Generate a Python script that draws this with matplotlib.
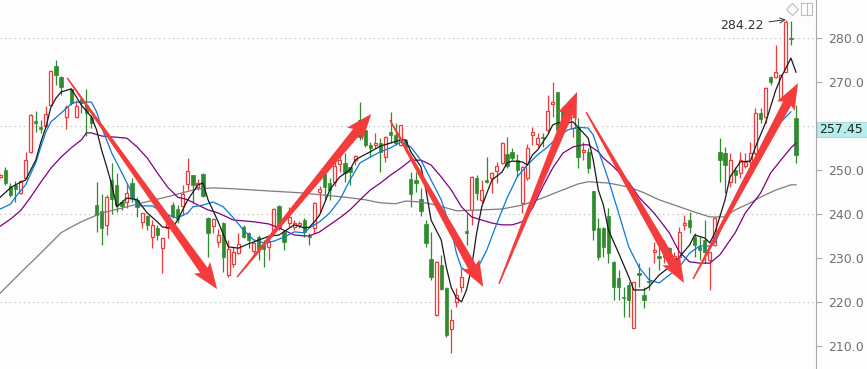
import matplotlib
matplotlib.use('Agg')
import matplotlib.pyplot as plt
from matplotlib.patches import Polygon, Rectangle
from matplotlib.lines import Line2D
import numpy as np

# ---------------- data ----------------
opens = [248.5,250.1,246.4,246.6,244.8,248.2,254.2,261.2,259.8,260.1,
         264.8,273.7,271.2,262.1,268.5,262.1,266.2,264.8,262.1,242.1,
         240.8,237.6,247.8,246.6,242.8,242.8,247.1,243.3,238.3,239.6,
         234.8,236.9,232.3,236.9,242.1,241.2,241.9,246.9,248.9,246.2,
         249.2,239.2,237.3,233.7,238.0,226.2,228.7,231.2,237.1,235.8,
         231.7,234.8,233.0,232.6,236.0,241.9,236.0,238.0,237.1,237.6,
         238.7,235.1,236.9,245.1,249.2,247.1,247.3,251.4,251.7,250.7,
         252.3,261.4,259.2,255.8,255.8,256.2,253.0,258.7,258.0,255.8,
         256.9,248.0,247.8,243.5,237.8,229.8,217.1,228.5,223.3,213.9,
         220.1,223.5,236.2,241.0,248.3,243.3,247.8,248.3,249.8,251.7,
         253.7,254.2,252.3,242.6,248.3,258.0,256.0,257.6,259.2,265.1,
         267.8,263.7,261.4,259.6,259.6,254.2,254.2,245.3,236.9,236.9,
         239.6,229.2,225.5,221.2,223.9,214.2,226.7,221.7,224.8,231.4,
         230.5,230.3,232.3,230.1,230.3,237.6,238.7,234.8,232.6,234.2,
         229.6,233.0,254.2,253.9,247.3,250.1,249.4,251.0,251.9,253.9,
         263.0,262.1,271.2,271.2,266.2,272.4,280.1,261.9]
highs = [249.2,250.7,247.1,247.6,247.8,254.2,262.8,263.5,261.4,264.6,
         272.8,275.1,271.4,264.8,268.7,266.0,266.7,268.5,262.6,247.3,
         244.6,244.4,251.7,249.4,243.3,247.1,248.3,243.9,240.4,239.8,
         238.7,237.6,234.7,238.7,242.8,242.1,246.7,252.8,249.0,248.0,
         249.4,239.4,239.2,236.7,238.3,234.2,232.6,235.8,237.6,236.0,
         233.7,235.3,234.2,234.8,241.4,242.1,236.4,241.7,238.7,238.5,
         239.2,235.8,242.8,246.4,249.4,248.3,252.3,254.2,253.9,250.8,
         253.5,265.5,259.4,256.4,258.5,257.3,257.7,263.3,260.8,260.4,
         257.1,249.6,249.6,246.0,238.7,236.0,229.3,230.8,223.5,218.5,
         223.3,227.8,240.3,248.6,248.9,247.8,253.0,249.6,251.9,256.4,
         257.6,255.1,253.7,251.0,256.0,259.8,258.5,258.5,267.1,270.1,
         267.9,264.6,264.2,263.0,261.9,256.4,255.1,245.4,239.2,237.1,
         241.4,229.3,227.3,223.5,224.6,224.7,228.9,223.5,228.0,233.7,
         233.0,234.2,232.6,231.4,237.1,239.8,240.5,235.8,234.8,238.7,
         231.5,239.3,257.3,255.3,253.9,250.8,254.2,253.9,256.4,264.2,
         264.2,268.9,271.4,278.5,271.8,284.22,283.9,264.8]
lows = [248.2,246.6,243.9,242.8,244.6,248.1,253.9,258.7,258.5,259.8,
        264.6,269.4,267.1,259.4,264.8,261.9,263.0,257.8,259.6,236.0,
        233.0,235.3,240.1,240.5,241.0,241.4,242.8,239.4,236.9,236.4,
        232.3,234.2,226.7,234.6,239.2,238.0,239.8,245.5,242.6,245.5,
        243.9,230.3,235.8,232.6,226.9,225.8,228.0,231.0,234.6,232.3,
        230.8,229.6,228.0,229.6,235.8,236.4,231.9,237.1,236.4,236.9,
        234.8,233.0,235.8,240.3,243.3,243.3,246.4,249.6,247.3,246.7,
        251.2,256.9,255.3,253.0,255.1,249.6,251.9,256.2,255.8,255.6,
        254.2,241.7,245.1,239.6,232.6,225.1,216.9,222.8,212.1,208.5,
        218.9,222.3,233.0,237.6,243.3,242.6,247.1,244.8,247.1,251.4,
        250.5,252.3,248.5,240.3,247.8,255.8,255.3,255.3,258.7,262.1,
        257.6,260.1,260.5,257.6,250.5,252.3,249.4,234.2,229.6,230.3,
        228.9,220.5,220.5,216.7,216.7,214.1,223.5,218.7,222.8,228.9,
        227.3,228.9,228.9,228.9,228.9,236.4,235.8,230.3,229.6,228.9,
        222.8,232.8,247.3,244.8,246.2,247.1,248.3,250.5,250.8,253.5,
        260.8,260.8,269.4,271.0,265.8,272.3,278.5,251.7]
closes = [248.9,247.1,244.4,245.7,247.6,252.3,262.6,260.8,259.4,262.8,
          272.6,271.7,268.9,264.4,265.3,264.6,265.3,263.0,260.8,239.8,
          236.9,243.9,243.5,242.1,241.9,244.8,243.7,241.7,240.3,237.6,
          237.6,235.3,234.6,238.0,239.6,238.9,244.6,249.8,246.7,247.1,
          244.2,235.8,238.9,235.3,230.3,232.1,231.4,233.3,234.8,234.2,
          233.5,232.1,232.1,233.7,241.2,236.9,233.7,239.4,238.0,238.0,
          236.0,234.8,242.6,245.8,246.2,245.5,251.0,252.3,249.4,249.6,
          253.3,257.6,255.8,255.1,256.2,254.2,257.6,258.0,256.2,260.3,
          255.3,244.6,247.1,240.8,233.5,225.8,229.2,223.0,212.6,216.0,
          221.7,225.8,235.8,248.5,244.8,245.5,247.3,249.4,251.0,256.2,
          251.0,252.8,250.1,250.8,255.1,258.7,257.3,257.3,263.5,265.5,
          259.2,261.0,263.3,262.1,253.0,254.6,250.5,236.4,230.3,232.6,
          231.2,223.5,223.5,221.0,220.5,224.6,226.2,220.5,224.6,231.9,
          230.1,232.3,230.1,230.5,236.0,238.0,237.1,233.0,231.9,231.4,
          231.4,239.2,252.3,251.2,252.3,248.9,252.3,251.9,253.9,263.0,
          261.7,268.7,270.1,272.3,271.7,283.7,279.8,253.5]

ma5_days = [0,2,3,5,7,8,9,10,11,12,14,15,16,18,19,20,21,22,23,25,
            27,29,31,32,34,35,37,39,40,41,43,45,47,49,53,55,58,60,61,62,
            63,64,65,66,67,69,70,71,73,75,77,79,80,81,83,84,85,86,87,88,
            89,90,91,92,93,94,95,96,97,99,100,101,103,104,105,106,108,109,110,112,
            113,114,116,117,118,119,120,122,124,125,127,128,130,132,134,136,137,139,140,141,
            143,144,146,148,149,151,153,154,155,156,157]
ma5_vals = [243.9,246.0,246.7,247.8,252.3,256.4,259.8,264.4,266.4,267.8,
            268.5,266.7,264.8,262.1,259.2,254.6,250.8,246.7,241.7,243.7,
            243.3,240.3,238.3,237.1,236.9,238.7,243.3,246.7,247.1,243.3,
            238.3,232.6,232.3,233.3,235.0,235.3,237.6,236.9,237.1,238.3,
            239.8,242.6,245.5,247.1,248.5,250.1,252.3,253.0,254.2,255.5,
            256.2,256.9,256.9,254.2,250.8,245.5,238.7,236.4,234.2,228.0,
            223.3,221.0,220.1,222.8,228.0,235.8,241.7,244.8,247.8,249.6,
            251.7,252.1,251.9,251.2,253.5,254.6,258.0,260.3,260.8,260.8,
            261.0,259.8,257.3,252.3,245.5,242.1,236.4,231.2,225.8,222.8,
            222.8,223.5,226.2,228.0,230.3,233.0,235.3,234.6,233.5,235.8,
            243.3,248.5,251.9,252.1,255.3,260.8,268.2,271.0,273.2,275.5,
            272.3]

ma10_days = [0,2,3,5,7,8,9,10,12,14,15,17,18,19,20,22,24,26,27,28,
             30,32,34,35,37,38,40,42,44,46,48,50,52,54,56,58,60,61,63,65,
             67,69,71,73,75,77,79,81,83,85,87,89,90,91,93,94,96,98,100,102,
             104,106,108,110,112,114,116,117,118,120,122,124,126,128,130,132,134,136,138,140,
             141,143,145,147,149,151,153,155,156]
ma10_vals = [241.2,242.3,243.9,246.7,251.7,255.3,258.7,261.0,263.0,265.1,
             265.5,265.5,265.5,263.3,259.8,253.9,249.4,244.8,242.1,241.9,
             241.9,240.5,239.4,239.2,240.3,241.7,242.1,242.8,241.7,239.2,
             236.4,234.2,233.5,233.9,234.8,236.0,235.8,236.9,238.3,240.3,
             243.3,247.8,251.7,253.0,254.2,255.1,256.4,255.3,252.3,247.8,
             243.3,236.4,231.2,227.8,226.7,227.3,231.9,238.0,243.7,248.5,
             251.2,253.5,255.3,257.6,259.2,259.8,259.6,258.0,254.6,247.8,
             240.3,232.6,228.0,225.1,224.4,226.2,228.0,231.2,232.8,232.8,
             233.5,238.7,243.9,248.5,252.3,256.9,259.8,262.1,263.3]

ma20_days = [0,2,4,6,8,10,12,14,16,17,18,20,22,25,27,29,31,33,35,37,
             39,41,43,46,50,53,55,58,60,61,63,65,67,69,71,73,75,77,79,81,
             83,85,87,89,91,93,95,97,99,101,103,105,107,109,111,113,115,116,118,119,
             121,124,126,129,132,134,136,138,140,142,145,147,150,152,154,156,157]
ma20_vals = [237.3,238.9,240.8,243.9,247.3,250.5,253.0,255.1,256.9,258.5,
             258.5,257.8,257.6,257.3,255.3,252.8,249.4,246.2,243.9,243.3,
             242.1,241.0,240.3,238.7,238.3,237.8,236.9,235.3,235.1,235.1,
             236.0,237.6,239.2,241.0,243.3,245.5,247.1,248.9,250.5,252.3,
             252.3,251.2,248.5,245.5,241.7,239.4,238.7,238.0,237.6,237.6,
             238.3,241.4,246.2,250.5,253.9,255.3,255.8,255.8,254.2,252.8,
             250.8,247.3,243.9,240.3,235.8,231.4,229.2,228.9,228.9,230.8,
             235.8,240.3,244.8,249.4,252.3,255.1,256.2]

ma60_days = [0,4,8,12,14,16,20,24,28,32,35,39,42,46,53,59,68,72,75,78,
             80,83,86,90,95,99,103,107,110,114,116,120,124,127,130,134,137,140,143,145,
             148,150,153,156,157]
ma60_vals = [222.1,226.7,231.2,235.8,237.1,238.3,240.3,241.4,242.6,243.7,
             244.6,245.8,246.0,245.8,245.3,244.9,243.9,243.3,242.6,242.4,
             243.0,242.8,242.1,240.8,241.0,241.2,242.1,243.7,245.1,246.9,
             247.4,247.1,246.2,244.9,243.3,241.7,240.5,239.4,239.4,241.0,
             242.6,243.9,245.5,246.7,246.7]

y_ticks = [210, 220, 230, 240, 250, 260, 270, 280]
hidden_tick = 260          # its label sits under the current-price box
grid_levels = [220, 240, 260, 280]
high_label = "284.22"
price_label = "257.45"

# trend arrows: (start day, start price, end day, end price)
arrows = [(13.2, 271.0, 42.8, 223.0),
          (46.7, 225.7, 73.2, 262.8),
          (76.9, 261.4, 95.3, 223.5),
          (98.4, 224.2, 113.8, 267.8),
          (115.6, 263.2, 134.9, 224.4),
          (136.7, 225.3, 157.4, 269.8)]

# ---------------- figure ----------------
W, H = 867, 369
BG = '#fdfdfd'
RED = '#f03a3a'
GREEN = '#2e8b2e'
fig = plt.figure(figsize=(W / 100, H / 100), dpi=100)
fig.patch.set_facecolor(BG)
ax = fig.add_axes([0, 0, 816 / W, 1])
ax.set_facecolor(BG)
ax.set_xlim(-0.05, 816 / 5.07)
ax.set_ylim(204.84, 288.7)

for g in grid_levels:
    ax.axhline(g, color='#b5b5b5', lw=0.8, ls=(0, (1, 3.2)), zorder=0)

# candles
n = len(opens)
for i in range(n):
    o, h, l, c = opens[i], highs[i], lows[i], closes[i]
    lo, hi = min(o, c), max(o, c)
    body = max(hi - lo, 0.2)
    if c >= o:
        col = RED
        ax.vlines(i, hi, h, color=col, lw=0.9, zorder=2)
        ax.vlines(i, l, lo, color=col, lw=0.9, zorder=2)
        ax.add_patch(Rectangle((i - 0.3, lo), 0.6, body, facecolor=BG,
                               edgecolor=col, lw=0.9, zorder=2))
    else:
        col = GREEN
        ax.vlines(i, l, h, color=col, lw=0.9, zorder=2)
        ax.add_patch(Rectangle((i - 0.33, lo), 0.66, body, facecolor=col,
                               edgecolor=col, lw=0.5, zorder=2))

# moving averages
ax.plot(ma60_days, ma60_vals, color='#7d7d7d', lw=0.9, zorder=3)
ax.plot(ma20_days, ma20_vals, color='#800080', lw=0.9, zorder=3)
ax.plot(ma10_days, ma10_vals, color='#0a7ad6', lw=0.9, zorder=3)
ax.plot(ma5_days, ma5_vals, color='#1a1a1a', lw=0.9, zorder=4)


# red arrows (tapered shaft + head), built in pixel space
def draw_arrow(x0, y0, x1, y1, head_len=23, head_w=20, shaft_w=9, start_w=1.5):
    p0 = ax.transData.transform((x0, y0))
    p1 = ax.transData.transform((x1, y1))
    d = p1 - p0
    L = np.hypot(*d)
    u = d / L
    nv = np.array([-u[1], u[0]])
    base = p1 - u * head_len
    barb = p1 - u * (head_len + 3)
    pts = [p0 + nv * start_w / 2,
           base + nv * shaft_w / 2,
           barb + nv * head_w / 2,
           p1,
           barb - nv * head_w / 2,
           base - nv * shaft_w / 2,
           p0 - nv * start_w / 2]
    dpts = ax.transData.inverted().transform(np.array(pts))
    ax.add_patch(Polygon(dpts, closed=True, facecolor='#f53c3c',
                         edgecolor='none', zorder=10))


for a in arrows:
    draw_arrow(*a)

# high annotation
ax.annotate(high_label, xy=(155, 284.22), xytext=(150.6, 283.0),
            ha='right', va='center', fontsize=9, color='#333333',
            arrowprops=dict(arrowstyle='->', color='#333333', lw=0.7,
                            shrinkA=2, shrinkB=0), zorder=11)

# axes styling
for s in ['top', 'left', 'bottom']:
    ax.spines[s].set_visible(False)
ax.spines['right'].set_color('#a8a8a8')
ax.spines['right'].set_linewidth(0.8)
ax.set_xticks([])
ax.yaxis.tick_right()
ax.set_yticks(y_ticks)
ax.set_yticklabels(["" if t == hidden_tick else f"{t:.1f}" for t in y_ticks])
ax.tick_params(axis='y', colors='#a8a8a8', labelcolor='#707070',
               labelsize=9, length=4, width=0.8, pad=5)

# current price box
fig.add_artist(Rectangle((817 / W, 1 - 137 / H), 50 / W, 15 / H,
                         transform=fig.transFigure, facecolor='#b6eeee',
                         edgecolor='#9fd6d6', lw=0.6, zorder=5))
fig.text(819 / W, 1 - 129.5 / H, price_label, ha='left', va='center',
         fontsize=9, color='#222222', zorder=6)

# small toolbar icons
fig.add_artist(Line2D([792 / W], [1 - 9 / H], marker='D', ms=6, mfc='none',
                      mec='#bdbdbd', mew=0.8, transform=fig.transFigure))
fig.add_artist(Rectangle((801 / W, 1 - 15 / H), 11 / W, 12 / H,
                         transform=fig.transFigure, facecolor='none',
                         edgecolor='#bdbdbd', lw=0.8))
fig.add_artist(Line2D([806.5 / W, 806.5 / W], [1 - 15 / H, 1 - 3 / H],
                      color='#bdbdbd', lw=0.8, transform=fig.transFigure))

fig.savefig('out.png', dpi=100, facecolor=BG)
